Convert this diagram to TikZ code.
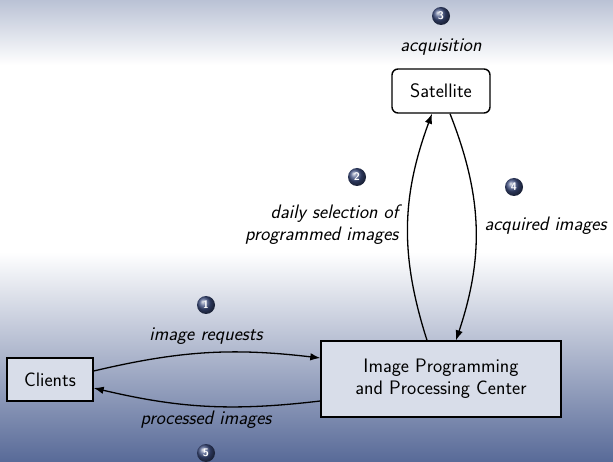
\documentclass[tikz,border=0pt]{standalone}
\usepackage{fontspec}
\usetikzlibrary{calc,arrows.meta,shadings}
\definecolor{topc}{RGB}{186,194,213}
\definecolor{botc}{RGB}{88,106,152}
\definecolor{boxfill}{RGB}{216,221,233}
\definecolor{ballc}{RGB}{62,78,128}
\tikzset{
  x=1pt,y=1pt,
  every node/.style={font=\sffamily\fontsize{19.5}{22}\selectfont},
  boxnode/.style={draw=black,line width=1.4pt,fill=boxfill,align=center,inner sep=0pt},
  satnode/.style={draw=black,line width=1.4pt,fill=white,rounded corners=6pt,inner sep=0pt},
  lbl/.style={font=\sffamily\itshape\fontsize{19.5}{22}\selectfont},
  numball/.style={circle,shading=ball,ball color=ballc,text=white,inner sep=0pt,minimum size=18pt,font=\sffamily\bfseries\fontsize{11}{11}\selectfont},
  conn/.style={line width=1.3pt,-{Latex[length=10pt,width=7.5pt]}},
}
\begin{document}
\begin{tikzpicture}
\useasboundingbox (0,0) rectangle (613,-462);
% background
\fill[white] (0,0) rectangle (613,-462);
\shade[top color=topc,bottom color=white] (0,0) rectangle (613,-65);
\shade[top color=white,bottom color=botc] (0,-252) rectangle (613,-462);
% nodes
\node[satnode,minimum width=98pt,minimum height=44pt] (sat) at (441,-91) {Satellite};
\node[boxnode,minimum width=86pt,minimum height=43pt] (cli) at (50,-379.5) {Clients};
\node[boxnode,minimum width=240pt,minimum height=76pt] (ippc) at (441,-379) {Image Programming\\and Processing Center};
% balls
\node[numball] (b3) at (441,-16) {3};
\node[numball] (b2) at (357,-177) {2};
\node[numball] (b4) at (514,-187) {4};
\node[numball] (b1) at (206,-305) {1};
\node[numball] (b5) at (206,-453) {5};
% labels
\node[lbl] (lacq) at (441,-47) {acquisition};
\node[lbl,align=right,anchor=east] (lsel) at (402,-225) {daily selection of\\programmed images};
\node[lbl,anchor=west] (lacqi) at (481,-226) {acquired images};
\node[lbl] (lreq) at (206,-336) {image requests};
\node[lbl] (lproc) at (206,-420) {processed images};
% connectors
\draw[conn] ($(ippc.north)+(-14,0)$) to[bend left=19] ($(sat.south)+(-9,0)$);
\draw[conn] ($(sat.south)+(9,0)$) to[bend left=20] ($(ippc.north)+(15,0)$);
\draw[conn] ($(cli.east)+(0,8.5)$) to[bend left=10] ($(ippc.west)+(0,21)$);
\draw[conn] ($(ippc.west)+(0,-22)$) to[bend left=10] ($(cli.east)+(0,-8.5)$);
\end{tikzpicture}
\end{document}
